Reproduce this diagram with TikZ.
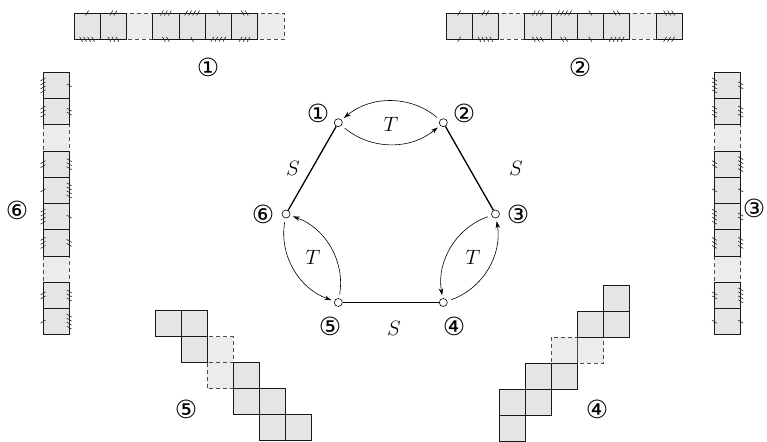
\documentclass[tikz,border=0pt]{standalone}
\usepackage{fontspec}
\newfontfamily\circfont{DejaVu Sans}
\usetikzlibrary{arrows.meta}
\def\W{26.25}
\def\V{26}
\tikzset{
  cellsolid/.style={fill=gray!20, draw=black!90, line width=0.8pt},
  celldash/.style={fill=gray!15, draw=black!70, line width=0.8pt, dash pattern=on 4pt off 3pt},
  tickmark/.style={line width=0.6pt, draw=black!85},
  vtx/.style={circle, draw, fill=white, inner sep=0pt, minimum size=8pt, line width=0.6pt},
  lab/.style={font=\circfont\fontsize{25}{25}\selectfont, inner sep=0pt},
  gl/.style={font=\fontsize{22}{22}\selectfont, inner sep=0pt},
  sedge/.style={line width=1.3pt},
  tarr/.style={line width=0.6pt, -{Stealth[length=7pt,width=4.5pt]}, shorten <=4pt, shorten >=3pt, bend right=40},
}
\newcommand\hticks[4]{\foreach \i in {1,...,#3}{\draw[tickmark] ({#1+(\i-(#3+1)/2)*4-1.5},{#2+2.5*(#4)}) -- ++(3,{-5*(#4)});}}
\newcommand\vticks[4]{\foreach \i in {1,...,#3}{\draw[tickmark] ({#1-2.5},{#2+(\i-(#3+1)/2)*4+1.5*(#4)}) -- ++(5,{-3*(#4)});}}
\newcommand\hcell[6]{\draw[cellsolid] ({#1},{#2}) rectangle ++(\W,\W);
  \hticks{#1+\W/2}{#2}{#3}{#4}\hticks{#1+\W/2}{#2+\W}{#5}{#6}}
\newcommand\vcell[6]{\draw[cellsolid] ({#1},{#2}) rectangle ++(\W,\W);
  \vticks{#1}{#2+\W/2}{#3}{#4}\vticks{#1+\W}{#2+\W/2}{#5}{#6}}
\newcommand\dcell[2]{\draw[celldash] ({#1},{#2}) rectangle ++(\W,\W);}
\newcommand\scell[2]{\draw[cellsolid] ({#1},{#2}) rectangle ++(\V,\V);}
\newcommand\sdcell[2]{\draw[celldash] ({#1},{#2}) rectangle ++(\V,\V);}
\begin{document}
\begin{tikzpicture}[x=1pt,y=-1pt]
\useasboundingbox (0,0) rectangle (767,441);
% strip 1 (top left)
\dcell{126.5}{13}
\dcell{257.75}{13}
\hcell{74}{13}{1}{1}{4}{-1}
\hcell{100.25}{13}{2}{1}{3}{-1}
\hcell{152.75}{13}{3}{1}{2}{-1}
\hcell{179}{13}{4}{1}{1}{-1}
\hcell{205.25}{13}{1}{-1}{4}{1}
\hcell{231.5}{13}{2}{-1}{3}{1}
\node[lab] (s1) at (208,67) {①};
% strip 2 (top right)
\dcell{498.5}{13}
\dcell{629.75}{13}
\hcell{446}{13}{1}{1}{1}{1}
\hcell{472.25}{13}{2}{1}{4}{-1}
\hcell{524.75}{13}{3}{1}{3}{-1}
\hcell{551}{13}{4}{1}{2}{-1}
\hcell{577.25}{13}{1}{-1}{1}{-1}
\hcell{603.5}{13}{2}{-1}{4}{1}
\hcell{656}{13}{3}{-1}{3}{1}
\node[lab] (s2) at (580,67) {②};
% strip 6 (left)
\dcell{43}{124.8}
\dcell{43}{256.05}
\vcell{43}{72.3}{4}{1}{1}{-1}
\vcell{43}{98.55}{3}{1}{2}{-1}
\vcell{43}{151.05}{2}{1}{3}{-1}
\vcell{43}{177.3}{1}{1}{4}{-1}
\vcell{43}{203.55}{4}{1}{1}{-1}
\vcell{43}{229.8}{3}{1}{2}{-1}
\vcell{43}{282.3}{2}{1}{3}{-1}
\vcell{43}{308.55}{1}{1}{4}{-1}
\node[lab] (s6) at (17,210) {⑥};
% strip 3 (right)
\dcell{714.5}{124.8}
\dcell{714.5}{256.05}
\vcell{714.5}{72.3}{4}{-1}{2}{-1}
\vcell{714.5}{98.55}{3}{-1}{3}{-1}
\vcell{714.5}{151.05}{2}{-1}{4}{-1}
\vcell{714.5}{177.3}{1}{-1}{1}{-1}
\vcell{714.5}{203.55}{4}{-1}{2}{-1}
\vcell{714.5}{229.8}{3}{-1}{3}{-1}
\vcell{714.5}{282.3}{2}{-1}{4}{-1}
\vcell{714.5}{308.55}{1}{-1}{1}{-1}
\node[lab] (s3) at (754,208) {③};
% strip 5 (bottom left staircase)
\sdcell{207}{336.5}
\sdcell{207}{362.5}
\scell{155}{310.5}
\scell{181}{310.5}
\scell{181}{336.5}
\scell{233}{362.5}
\scell{233}{388.5}
\scell{259}{388.5}
\scell{259}{414.5}
\scell{285}{414.5}
\node[lab] (s5) at (186,409) {⑤};
% strip 4 (bottom right staircase)
\sdcell{551.5}{337}
\sdcell{577.5}{337}
\scell{603.5}{285}
\scell{577.5}{311}
\scell{603.5}{311}
\scell{525.5}{363}
\scell{551.5}{363}
\scell{499.5}{389}
\scell{525.5}{389}
\scell{499.5}{415}
\node[lab] (s4) at (597,409) {④};
% hexagon
\node[vtx] (v1) at (338.3,122.7) {};
\node[vtx] (v2) at (443.3,122.7) {};
\node[vtx] (v3) at (495.5,214) {};
\node[vtx] (v4) at (443.3,302.5) {};
\node[vtx] (v5) at (338.3,302.5) {};
\node[vtx] (v6) at (286,214) {};
\draw[sedge] (v1) -- (v6);
\draw[sedge] (v2) -- (v3);
\draw[sedge] (v5) -- (v4);
\draw[tarr] (v2) to (v1);
\draw[tarr] (v1) to (v2);
\draw[tarr] (v5) to (v6);
\draw[tarr] (v6) to (v5);
\draw[tarr] (v3) to (v4);
\draw[tarr] (v4) to (v3);
\node[lab] (l1) at (318,113) {①};
\node[lab] (l2) at (464,113) {②};
\node[lab] (l3) at (518,214) {③};
\node[lab] (l4) at (454,326) {④};
\node[lab] (l5) at (330,326) {⑤};
\node[lab] (l6) at (263,214) {⑥};
\node[gl] (S1) at (293,168) {$S$};
\node[gl] (S2) at (516,168) {$S$};
\node[gl] (S3) at (394,328) {$S$};
\node[gl] (T1) at (391,124) {$T$};
\node[gl] (T2) at (313,257) {$T$};
\node[gl] (T3) at (473,257) {$T$};
\end{tikzpicture}
\end{document}
